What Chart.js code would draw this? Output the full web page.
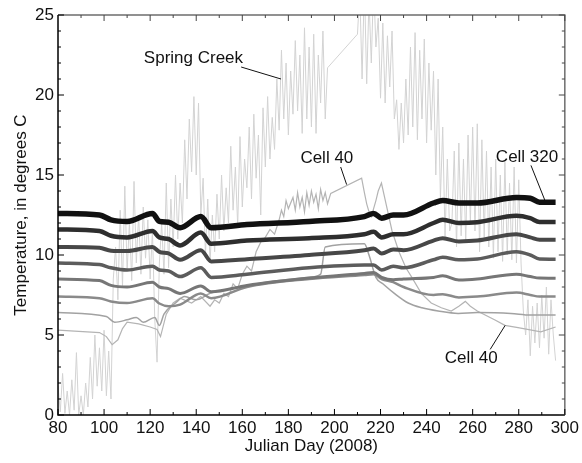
<!DOCTYPE html>
<html>
<head>
<meta charset="utf-8">
<script src="https://cdn.jsdelivr.net/npm/chart.js@4.4.0/dist/chart.umd.min.js"></script>
<style>
  html, body { margin: 0; padding: 0; background: #fff; }
  #chart { display: block; }
</style>
</head>
<body>
<canvas id="chart" width="582" height="463"></canvas>
<script>
// Spring Creek, one value per day from day 80 to 296 (null = no record)
const creekStartDay = 80;
const creekTemps = [
  1.8, 0.2, 2.6, 0.1, 1.5, 0.0, 2.2, 0.3, 3.9, 0.0, 1.2, 0.0, 2.0, 0.5, 3.6, 1.0, 5.0, 1.8, 4.2, 1.5,
  5.3, 1.2, 4.0, 1.0, 8.5, 10.5, 7.2, 12.8, 8.0, 14.3, 9.0, 12.0, 8.4, 14.6, 9.5, 12.5, 8.8, 13.0, 9.8, 12.2,
  8.5, 11.5, 6.0, 3.3, 9.5, 12.0, 8.8, 14.5, 9.2, 13.5, 10.5, 15.0, 11.0, 14.5, 12.0, 17.2, 13.5, 18.5, 15.2, 19.9,
  15.0, 19.5, 12.5, 14.8, 10.0, 13.5, 9.5, 12.5, 10.2, 13.8, 11.0, 15.0, 11.5, 14.2, 12.0, 16.8, 12.8, 15.5, 11.8, 17.4,
  13.0, 16.0, 14.2, 18.0, 13.5, 18.8, 14.8, 17.5, 12.5, 19.2, 15.5, 19.9, 16.0, 18.6, 16.6, 21.0, 17.8, 22.8, 18.5, 22.0,
  17.5, 21.5, 18.8, 23.4, 19.0, 22.5, 17.6, 24.2, 18.5, 23.0, 18.0, 23.8, 17.6, 22.5, 19.5, 24.0, 18.5, 21.7, null, null,
  null, null, null, null, null, null, null, null, null, null, 23.8, 26.5, 21.0, 27.0, 20.7, 26.0, 22.0, 27.0, 23.0, 24.8,
  19.8, 24.5, 19.5, 23.7, 20.5, 24.0, 18.5, 19.7, 16.6, 19.5, 17.0, 21.0, 17.5, 23.0, 18.0, 23.9, 17.2, 22.8, 18.5, 23.5,
  17.0, 22.0, 17.8, 21.5, 15.0, 21.0, 13.5, 18.0, 11.1, 16.0, 11.5, 12.0, 16.5, 10.5, 17.0, 11.2, 16.0, 10.8, 17.5, 12.0,
  18.0, 11.5, 18.2, 10.2, 17.2, 11.0, 16.5, 10.5, 15.5, 9.8, 16.0, 10.2, 15.0, 9.6, 15.8, 10.0, 14.5, 9.7, 15.5, 9.5,
  14.7, 9.5, 6.5, 5.0, 7.2, 3.7, 6.8, 4.5, 7.0, 4.2, 7.5, 4.8, 8.0, 3.8, 7.2, 5.0, 3.4
];

// Model cells (deep, smooth lines) share one set of days
const cellDays = [80, 98, 103, 110, 121, 124, 128, 133, 142, 146.5, 162, 189, 213, 217, 220.5, 225.5, 230, 243, 247, 254, 262, 279, 285, 289, 296];
const cell320 = [12.6, 12.5, 12.2, 12.1, 12.6, 12.1, 12.05, 11.7, 12.4, 11.7, 11.9, 12.1, 12.4, 12.6, 12.3, 12.5, 12.5, 13.25, 13.4, 13.25, 13.25, 13.6, 13.55, 13.3, 13.3];
const cellB = [11.6, 11.5, 11.2, 11.1, 11.5, 11.1, 11.0, 10.6, 11.4, 10.7, 10.9, 11.05, 11.3, 11.45, 11.1, 11.3, 11.3, 12.0, 12.2, 12.0, 12.05, 12.45, 12.3, 12.07, 12.07];
const cellC = [10.5, 10.45, 10.27, 10.25, 10.5, 10.2, 10.1, 9.7, 10.3, 9.6, 9.74, 10.0, 10.3, 10.4, 10.1, 10.35, 10.3, 10.9, 11.05, 10.85, 10.9, 11.3, 11.1, 10.95, 10.95];
const cellD = [9.5, 9.4, 9.2, 9.06, 9.3, 9.06, 9.0, 8.65, 9.2, 8.6, 8.8, 9.2, 9.37, 9.37, 9.06, 9.3, 9.2, 9.7, 9.86, 9.7, 9.75, 10.2, 10.0, 9.75, 9.74];
const cellE = [8.5, 8.4, 8.1, 8.0, 8.3, 8.0, 7.9, 7.6, 8.06, 7.7, 8.1, 8.56, 8.85, 8.9, 8.6, 8.45, 8.5, 8.6, 8.7, 8.44, 8.5, 8.8, 8.65, 8.56, 8.55];
const cellF = [7.4, 7.3, 7.1, 7.0, 7.3, 6.97, 6.8, 6.9, 7.6, 7.3, 8.0, 8.5, 8.75, 8.8, 8.5, 8.3, 8.0, 7.5, 7.55, 7.35, 7.4, 7.65, 7.5, 7.4, 7.4];

// Shallower cells (light lines), own days
const cellGDays = [80, 101, 104.6, 110, 114, 117, 122, 124, 126, 131, 135, 140, 146, 155, 162, 176, 189, 194, 196, 213, 215, 218, 221, 226, 232, 238, 245, 253.7, 262, 276.6, 285, 296];
const cellG = [6.4, 6.15, 5.8, 5.95, 6.1, 5.8, 6.1, 5.6, 6.3, 7.0, 7.4, 7.2, 7.6, 7.9, 8.1, 8.4, 8.6, 8.8, 10.5, 10.7, 10.0, 8.6, 8.2, 7.6, 7.0, 6.7, 6.5, 6.35, 6.4, 6.35, 6.25, 6.25];

const cell40Days = [80, 98, 101, 103.5, 106, 108, 110, 115, 120, 123, 124.5, 127, 130, 133, 138, 142, 146, 148, 150, 152, 154, 156, 158, 160, 162, 164, 166, 168, 170, 172, 174, 176, 177, 178, 179, 180, 182, 183, 184, 185, 186, 187, 188, 189, 190, 191, 192, 193, 194, 195, 196, 197, 198.4, 211.8, 213, 214, 215, 216, 217, 218, 219, 220.4, 223, 225, 228, 231, 233.4, 237.7, 242, 246.4, 250.7, 254, 256.8, 259, 262, 269.7, 274, 279.7, 289.6, 296];
const cell40 = [5.3, 5.15, 4.9, 4.4, 4.7, 5.4, 5.8, 5.7, 5.5, 5.35, 4.9, 6.3, 7.0, 7.3, 7.0, 7.4, 6.8, 7.2, 7.0, 7.6, 7.4, 8.2, 7.9, 8.8, 9.3, 9.0, 10.2, 10.8, 11.1, 11.6, 11.3, 12.2, 12.8, 12.4, 13.4, 12.9, 13.6, 12.8, 13.9, 13.0, 13.6, 12.7, 13.9, 13.1, 14.0, 13.3, 13.8, 12.9, 14.1, 13.4, 13.9, 13.2, 13.85, 14.8, 13.9, 13.2, 12.7, 12.4, 12.9, 13.4, 14.0, 14.5, 12.8, 11.5, 10.2, 9.2, 8.65, 7.6, 7.0, 6.7, 6.5, 6.8, 7.1, 6.8, 6.5, 5.94, 5.6, 5.46, 5.2, 5.5];

// Annotations: label text, label centre and leader line, in data units (day, degrees C)
const notes = [
  { text: 'Spring Creek', at: [138.8, 22.3], from: [159.5, 21.75], to: [176.8, 21.0] },
  { text: 'Cell 40', at: [196.7, 16.05], from: [202.7, 15.5], to: [205.3, 14.4] },
  { text: 'Cell 320', at: [283.6, 16.1], from: [285.3, 15.6], to: [291.4, 13.4] },
  { text: 'Cell 40', at: [259.4, 3.55], from: [267.6, 4.1], to: [274.1, 5.6] }
];

const FONT = '"Liberation Sans", Arial, sans-serif';

function pairs(days, temps) {
  return days.map((d, i) => ({ x: d, y: temps[i] }));
}

function smoothLine(days, temps, color, width) {
  return {
    data: pairs(days, temps),
    borderColor: color,
    borderWidth: width,
    pointRadius: 0,
    cubicInterpolationMode: 'monotone',
    fill: false
  };
}

const creekData = creekTemps.map((t, i) => ({ x: creekStartDay + i, y: t }));

// Frame, inward ticks, titles and labels
const framePlugin = {
  id: 'frame',
  afterDraw(chart) {
    const ctx = chart.ctx;
    const a = chart.chartArea;
    const xs = chart.scales.x;
    const ys = chart.scales.y;
    ctx.save();

    // top and right in grey
    ctx.strokeStyle = '#6e6e6e';
    ctx.lineWidth = 1.5;
    ctx.beginPath();
    ctx.moveTo(a.left, a.top);
    ctx.lineTo(a.right, a.top);
    ctx.lineTo(a.right, a.bottom);
    ctx.stroke();
    // left and bottom in black
    ctx.strokeStyle = '#000';
    ctx.beginPath();
    ctx.moveTo(a.left, a.top);
    ctx.lineTo(a.left, a.bottom);
    ctx.lineTo(a.right, a.bottom);
    ctx.stroke();

    ctx.lineWidth = 1;
    for (let d = 80; d <= 300; d += 10) {
      const px = xs.getPixelForValue(d);
      const len = d % 20 === 0 ? 6 : 3;
      ctx.strokeStyle = '#000';
      ctx.beginPath();
      ctx.moveTo(px, a.bottom);
      ctx.lineTo(px, a.bottom - len);
      ctx.stroke();
      ctx.strokeStyle = '#444';
      ctx.beginPath();
      ctx.moveTo(px, a.top);
      ctx.lineTo(px, a.top + len);
      ctx.stroke();
    }
    for (let t = 0; t <= 25; t += 1) {
      const py = ys.getPixelForValue(t);
      const len = t % 5 === 0 ? 6 : 3;
      ctx.strokeStyle = '#000';
      ctx.beginPath();
      ctx.moveTo(a.left, py);
      ctx.lineTo(a.left + len, py);
      ctx.stroke();
      ctx.strokeStyle = '#444';
      ctx.beginPath();
      ctx.moveTo(a.right, py);
      ctx.lineTo(a.right - len, py);
      ctx.stroke();
    }

    // axis titles
    ctx.fillStyle = '#111';
    ctx.font = '17px ' + FONT;
    ctx.textAlign = 'center';
    ctx.textBaseline = 'middle';
    ctx.fillText('Julian Day (2008)', (a.left + a.right) / 2, 446);
    ctx.save();
    ctx.translate(21, (a.top + a.bottom) / 2);
    ctx.rotate(-Math.PI / 2);
    ctx.fillText('Temperature, in degrees C', 0, 0);
    ctx.restore();

    // annotations
    ctx.font = '17px ' + FONT;
    notes.forEach(n => {
      ctx.fillStyle = '#111';
      ctx.fillText(n.text, xs.getPixelForValue(n.at[0]), ys.getPixelForValue(n.at[1]));
      ctx.strokeStyle = '#111';
      ctx.lineWidth = 1;
      ctx.beginPath();
      ctx.moveTo(xs.getPixelForValue(n.from[0]), ys.getPixelForValue(n.from[1]));
      ctx.lineTo(xs.getPixelForValue(n.to[0]), ys.getPixelForValue(n.to[1]));
      ctx.stroke();
    });
    ctx.restore();
  }
};

new Chart(document.getElementById('chart'), {
  type: 'line',
  data: {
    datasets: [
      smoothLine(cellDays, cell320, '#111111', 5.5),
      smoothLine(cellDays, cellB, '#2e2e2e', 4.5),
      smoothLine(cellDays, cellC, '#474747', 4),
      smoothLine(cellDays, cellD, '#5c5c5c', 3.5),
      smoothLine(cellDays, cellE, '#767676', 3),
      smoothLine(cellDays, cellF, '#8a8a8a', 2.5),
      smoothLine(cellGDays, cellG, '#a2a2a2', 1.5),
      {
        data: pairs(cell40Days, cell40),
        borderColor: '#b4b4b4',
        borderWidth: 1.2,
        pointRadius: 0,
        tension: 0,
        fill: false
      },
      {
        data: creekData,
        borderColor: '#d3d3d3',
        borderWidth: 1,
        pointRadius: 0,
        tension: 0,
        spanGaps: true,
        fill: false
      }
    ]
  },
  options: {
    responsive: false,
    animation: false,
    devicePixelRatio: 1,
    layout: { padding: { top: 15, right: 15, left: 0, bottom: 0 } },
    plugins: { legend: { display: false }, tooltip: { enabled: false } },
    scales: {
      x: {
        type: 'linear',
        min: 80,
        max: 300,
        grid: { display: false, drawTicks: false },
        border: { display: false },
        ticks: { stepSize: 20, color: '#111', font: { family: FONT, size: 17 }, padding: 3, maxRotation: 0 },
        afterFit(scale) { scale.height = 48; }
      },
      y: {
        min: 0,
        max: 25,
        grid: { display: false, drawTicks: false },
        border: { display: false },
        ticks: { stepSize: 5, color: '#111', font: { family: FONT, size: 17 }, padding: 4 },
        afterFit(scale) { scale.width = 58; }
      }
    }
  },
  plugins: [framePlugin]
});
</script>
</body>
</html>
